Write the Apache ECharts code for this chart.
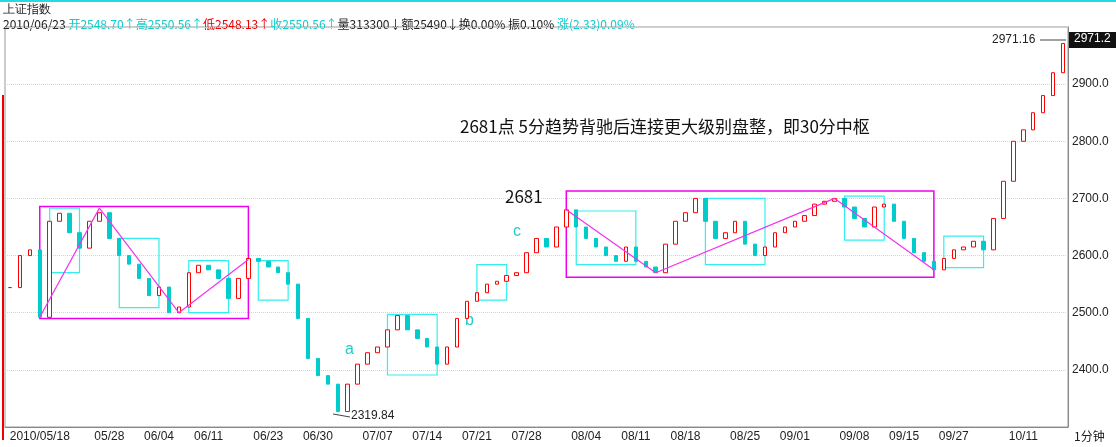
<!DOCTYPE html>
<html><head><meta charset="utf-8">
<script src="https://cdn.jsdelivr.net/npm/echarts@6/dist/echarts.min.js"></script>
<style>html,body{margin:0;padding:0;background:#fff}#c{width:1116px;height:447px}</style>
</head><body><div id="c"></div>
<script>
// one entry per trading-day slot
var closes = [2544,2600,2610,2492,2660,2674,2640,2613,2660,2675,2630,2600,2585,2560,2530,2545,2500,2510,2570,2583,
	2575,2560,2525,2560,2595,2590,2580,2570,2550,2490,2420,2390,2375,2327,2375,2410,2430,2440,2470,2495,
	2470,2455,2440,2410,2440,2490,2520,2535,2550,2555,2565,2570,2605,2630,2615,2650,2680,2650,2630,2615,
	2600,2590,2615,2590,2580,2570,2620,2660,2675,2700,2660,2630,2640,2660,2620,2600,2615,2640,2650,2660,
	2670,2690,2695,2700,2685,2665,2650,2685,2690,2660,2630,2605,2590,2575,2595,2610,2615,2625,2610,2665,
	2730,2800,2820,2850,2880,2920,2971.16];
var dateAt = {3:'2010/05/18',10:'05/28',15:'06/04',20:'06/11',26:'06/23',31:'06/30',37:'07/07',42:'07/14',47:'07/21',
	52:'07/28',58:'08/04',63:'08/11',68:'08/18',74:'08/25',79:'09/01',85:'09/08',90:'09/15',95:'09/27',102:'10/11'};
var pivotBoxes = [[3,2490,24.3,2686],[55.5,2562,93,2713]];
var cyanBoxes = [[4.3,2570,7.3,2683],[11.3,2509,14.7,2630],[18,2500,22.3,2591],[25.3,2522,28,2591],[38.3,2391,42.7,2497],
	[46.7,2522,50,2584],[57.3,2584,63.3,2678],[69.5,2584,75.8,2700],[84.3,2627,88.3,2704],[93.5,2579,98,2634]];
var pinkPath1 = [[3,2492],[9,2683],[17,2500],[24.3,2593]];
var pinkPath2 = [[56,2680],[65,2570],[83,2700],[93,2575]];

var cats = [], candles = [];
for (var i = 0; i < closes.length; i++) {
	cats.push(dateAt[i] || '');
	var o = i ? closes[i-1] : closes[i];
	candles.push([o, closes[i], Math.min(o, closes[i]), Math.max(o, closes[i])]);
}
function segs(p){ var r=[]; for(var i=1;i<p.length;i++) r.push([{coord:p[i-1]},{coord:p[i]}]); return r; }
function areas(b){ return b.map(function(a){return [{coord:[a[0],a[3]]},{coord:[a[2],a[1]]}];}); }

var chart = echarts.init(document.getElementById('c'));
chart.setOption({
	animation: false,
	grid: {left: 5, right: 48, top: 27, bottom: 20, show: true, borderColor: '#999'},
	xAxis: {type: 'category', data: cats, boundaryGap: true,
		axisLine: {lineStyle: {color: '#888'}}, axisTick: {show: false},
		axisLabel: {interval: 0, align: 'center', color: '#222', fontSize: 12, margin: 4,
			formatter: function(v){return v;}}},
	yAxis: {type: 'value', position: 'right', min: 2300, max: 3000, interval: 100,
		axisLine: {show: true, lineStyle: {color: '#888'}}, axisTick: {show: false},
		axisLabel: {color: '#222', fontSize: 12, margin: 4, showMinLabel: false, showMaxLabel: false, formatter: function(v){return v.toFixed(1);}},
		splitLine: {lineStyle: {color: '#9ee', type: 'dotted'}}},
	series: [{
		type: 'candlestick', data: candles, barWidth: 4,
		itemStyle: {color: '#fff', borderColor: '#f00', color0: '#0cc', borderColor0: '#0cc'},
		markArea: {silent: true, itemStyle: {color: 'rgba(0,0,0,0)', borderColor: '#e0e', borderWidth: 1.5}, data: areas(pivotBoxes)}
	}, {
		type: 'line', data: [], markArea: {silent: true, itemStyle: {color: 'rgba(0,0,0,0)', borderColor: '#3ee', borderWidth: 1.2}, data: areas(cyanBoxes)},
		markLine: {silent: true, symbol: 'none', label: {show: false}, lineStyle: {color: '#e3e', type: 'solid', width: 1.2},
			data: segs(pinkPath1).concat(segs(pinkPath2))}
	}],
	graphic: [
		{type: 'rect', shape: {x: 0, y: 0, width: 1116, height: 2}, style: {fill: '#2dd'}},
		{type: 'rect', shape: {x: 2, y: 95, width: 2, height: 345}, style: {fill: '#e00'}},
		{type: 'text', left: 3, top: 4, style: {text: '上证指数', fontSize: 12, fill: '#222', font: '12px "Noto Sans CJK SC"'}},
		{type: 'text', left: 3, top: 18, style: {text: '{k|2010/06/23 }{c|开2548.70↑高2550.56↑}{r|低2548.13↑}{c|收2550.56↑}{k|量313300↓额25490↓换0.00% 振0.10% }{c|涨(2.33)0.09%}',
			font: '12px "Noto Sans CJK SC"', rich: {k: {fill: '#222'}, c: {fill: '#1cc'}, r: {fill: '#e00'}}}},
		{type: 'text', left: 460, top: 118, style: {text: '2681点 5分趋势背驰后连接更大级别盘整，即30分中枢', font: '17px "Noto Sans CJK SC"', fill: '#111'}},
		{type: 'text', left: 505, top: 188, style: {text: '2681', font: '17px "Noto Sans CJK SC"', fill: '#111'}},
		{type: 'text', left: 345, top: 342, style: {text: 'a', font: '16px sans-serif', fill: '#2cc'}},
		{type: 'text', left: 465, top: 313, style: {text: 'b', font: '16px sans-serif', fill: '#2cc'}},
		{type: 'text', left: 513, top: 224, style: {text: 'c', font: '16px sans-serif', fill: '#2cc'}},
		{type: 'line', shape: {x1: 333, y1: 414, x2: 350, y2: 417}, style: {stroke: '#444'}},
		{type: 'text', left: 351, top: 410, style: {text: '2319.84', font: '12px sans-serif', fill: '#222'}},
		{type: 'text', left: 992, top: 34, style: {text: '2971.16', font: '12px sans-serif', fill: '#222'}},
		{type: 'line', shape: {x1: 1040, y1: 40, x2: 1066, y2: 40}, style: {stroke: '#444'}},
		{type: 'rect', shape: {x: 1068, y: 32, width: 48, height: 16}, style: {fill: '#111'}},
		{type: 'text', left: 1074, top: 33, style: {text: '2971.2', font: '12px sans-serif', fill: '#fff'}},
		{type: 'text', left: 1074, top: 430, style: {text: '1分钟', font: '12px "Noto Sans CJK SC"', fill: '#222'}}
	]
});
</script></body></html>
